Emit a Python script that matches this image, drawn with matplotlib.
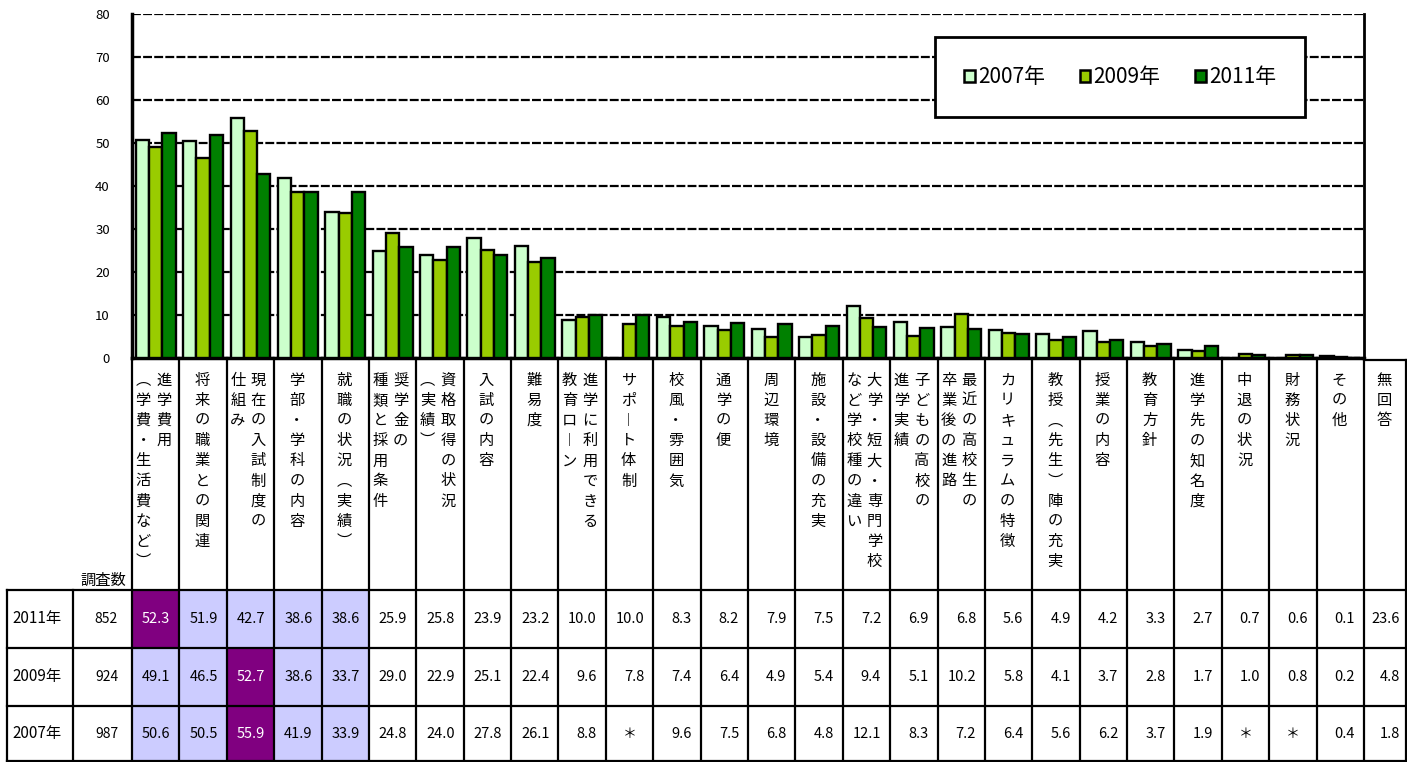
import numpy as np
import matplotlib
matplotlib.use("Agg")
import matplotlib.pyplot as plt
from matplotlib.patches import Rectangle

plt.rcParams['font.family'] = ['Noto Sans CJK JP', 'DejaVu Sans']

# --- donnees ---
# chaque libelle : colonnes verticales, de droite a gauche
labels = [
    ["進学費用", "（学費・生活費など）"],
    ["将来の職業との関連"],
    ["現在の入試制度の", "仕組み"],
    ["学部・学科の内容"],
    ["就職の状況（実績）"],
    ["奨学金の", "種類と採用条件"],
    ["資格取得の状況", "（実績）"],
    ["入試の内容"],
    ["難易度"],
    ["進学に利用できる", "教育ローン"],
    ["サポート体制"],
    ["校風・雰囲気"],
    ["通学の便"],
    ["周辺環境"],
    ["施設・設備の充実"],
    ["大学・短大・専門学校", "など学校種の違い"],
    ["子どもの高校の", "進学実績"],
    ["最近の高校生の", "卒業後の進路"],
    ["カリキュラムの特徴"],
    ["教授（先生）陣の充実"],
    ["授業の内容"],
    ["教育方針"],
    ["進学先の知名度"],
    ["中退の状況"],
    ["財務状況"],
    ["その他"],
    ["無回答"],
]

years = ["2007年", "2009年", "2011年"]
colors = ["#CCFFCC", "#99CC00", "#008000"]
n_survey = {"2011年": 852, "2009年": 924, "2007年": 987}

# None = "*" (pas de donnee)
v2011 = [52.3, 51.9, 42.7, 38.6, 38.6, 25.9, 25.8, 23.9, 23.2, 10.0, 10.0, 8.3, 8.2,
         7.9, 7.5, 7.2, 6.9, 6.8, 5.6, 4.9, 4.2, 3.3, 2.7, 0.7, 0.6, 0.1, 23.6]
v2009 = [49.1, 46.5, 52.7, 38.6, 33.7, 29.0, 22.9, 25.1, 22.4, 9.6, 7.8, 7.4, 6.4,
         4.9, 5.4, 9.4, 5.1, 10.2, 5.8, 4.1, 3.7, 2.8, 1.7, 1.0, 0.8, 0.2, 4.8]
v2007 = [50.6, 50.5, 55.9, 41.9, 33.9, 24.8, 24.0, 27.8, 26.1, 8.8, None, 9.6, 7.5,
         6.8, 4.8, 12.1, 8.3, 7.2, 6.4, 5.6, 6.2, 3.7, 1.9, None, None, 0.4, 1.8]

# cellules surlignees : (annee, indice categorie)
purple_cells = [("2011年", 0), ("2009年", 2), ("2007年", 2)]
lav_cells = [("2011年", 1), ("2011年", 2), ("2011年", 3), ("2011年", 4),
             ("2009年", 0), ("2009年", 1), ("2009年", 3), ("2009年", 4),
             ("2007年", 0), ("2007年", 1), ("2007年", 3), ("2007年", 4)]

# --- mise en page (pixels) ---
W, H = 1407, 762
ax_l, ax_r, ax_t, ax_b = 132, 1364, 14, 358
n_cat = 26  # 無回答 hors graphique

fig = plt.figure(figsize=(W / 100, H / 100), dpi=100)

# couche tableau, en pixels
tab = fig.add_axes([0, 0, 1, 1])
tab.set_xlim(0, W)
tab.set_ylim(H, 0)
tab.axis("off")

ax = fig.add_axes([ax_l / W, 1 - ax_b / H, (ax_r - ax_l) / W, (ax_b - ax_t) / H])
ax.set_zorder(2)
ax.patch.set_alpha(0)

# --- barres ---
x = np.arange(n_cat) + 0.5
bw = 0.28
series = [v2007, v2009, v2011]
for k, (vals, col, yr) in enumerate(zip(series, colors, years)):
    h = np.array([np.nan if v is None else v for v in vals[:n_cat]], dtype=float)
    ax.bar(x + (k - 1) * bw, h, width=bw, color=col, edgecolor="black",
           linewidth=1.7, label=yr, zorder=3)

ax.set_xlim(0, n_cat)
ax.set_ylim(0, 80)
ax.set_yticks(np.arange(0, 81, 10))
ax.set_xticks([])
ax.grid(axis="y", linestyle=(0, (4, 1)), color="black", linewidth=1.6, zorder=1)
ax.tick_params(axis="y", length=0, pad=16, labelsize=9.5)
ax.spines["top"].set_visible(False)
ax.spines["left"].set_linewidth(2.5)
ax.spines["bottom"].set_linewidth(2.5)
ax.spines["right"].set_linewidth(2)

leg = ax.legend(loc="center", mode="expand", ncol=3, fontsize=15,
                handlelength=0.5, handleheight=0.5, handletextpad=0.15,
                borderpad=1.4, fancybox=False, framealpha=1, borderaxespad=0)
leg.set_bbox_to_anchor((935 / W, 1 - 117 / H, 370 / W, 80 / H), transform=fig.transFigure)
leg.get_frame().set_edgecolor("black")
leg.get_frame().set_linewidth(2)
for p in leg.get_patches():
    p.set_linewidth(1.8)

# --- tableau ---
col_w = (ax_r - ax_l) / n_cat
edges = [ax_l + col_w * i for i in range(n_cat + 1)] + [W - 1]
row_y = [590, 648, 706, 761]
row_years = ["2011年", "2009年", "2007年"]
row_vals = {"2011年": v2011, "2009年": v2009, "2007年": v2007}

vmap = {"（": "︵", "）": "︶", "ー": "︱"}

lw = 1.6
# fonds colores
for yr, j in purple_cells + lav_cells:
    r = row_years.index(yr)
    c = "#800080" if (yr, j) in purple_cells else "#CCCCFF"
    tab.add_patch(Rectangle((edges[j], row_y[r]), col_w, row_y[r + 1] - row_y[r],
                            facecolor=c, edgecolor="none", zorder=1))

# traits
for i, ex in enumerate(edges):
    top = 360 if i == len(edges) - 1 else ax_b
    tab.plot([ex, ex], [top, row_y[-1]], color="black", lw=lw, zorder=2)
tab.plot([ax_r, W], [360, 360], color="black", lw=lw, zorder=2)
for yy in row_y:
    tab.plot([7, W], [yy, yy], color="black", lw=lw, zorder=2)
for ex in [7, 72.5]:
    tab.plot([ex, ex], [row_y[0], row_y[-1]], color="black", lw=lw, zorder=2)

# en-tetes verticaux
step = 20.2
for j, cols in enumerate(labels):
    cx = edges[j] + (edges[j + 1] - edges[j]) / 2
    offs = [-1] if len(cols) == 1 else [8, -12.5]
    for col_txt, off in zip(cols, offs):
        for i, ch in enumerate(col_txt):
            tab.text(cx + off, 380 + i * step, vmap.get(ch, ch), ha="center",
                     va="center", fontsize=11, zorder=3)

tab.text(103, 580, "調査数", ha="center", va="center", fontsize=11)

# valeurs
for r, yr in enumerate(row_years):
    cy = (row_y[r] + row_y[r + 1]) / 2
    tab.text(12, cy, yr, ha="left", va="center", fontsize=11)
    tab.text(118, cy, str(n_survey[yr]), ha="right", va="center", fontsize=10)
    for j, v in enumerate(row_vals[yr]):
        tc = "white" if (yr, j) in purple_cells else "black"
        if v is None:
            tab.text((edges[j] + edges[j + 1]) / 2, cy, "＊", ha="center",
                     va="center", fontsize=10, color=tc, zorder=3)
        else:
            pad = 6 if j == n_cat else 9
            tab.text(edges[j + 1] - pad, cy, f"{v:.1f}", ha="right", va="center",
                     fontsize=10.5, color=tc, zorder=3)

fig.savefig("out.png", dpi=100)
